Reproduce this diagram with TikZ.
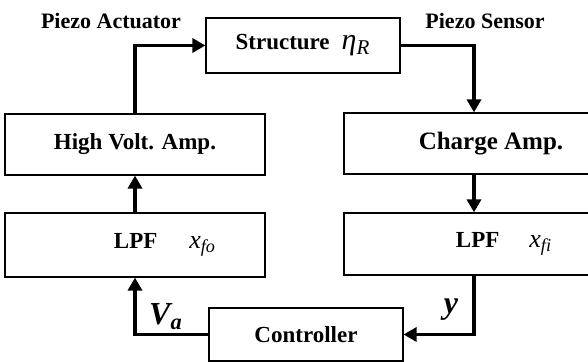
\documentclass[tikz,border=0pt]{standalone}
\usepackage{fontspec}
\setmainfont{Liberation Serif}
\usetikzlibrary{arrows.meta}

\begin{document}
\begin{tikzpicture}[x=0.5pt,y=0.5pt,>={Triangle[length=6.5pt,width=7pt]},
    blockbox/.style={draw,line width=0.6pt,inner sep=0pt,
      font=\fontsize{11.5}{13}\selectfont\bfseries},
    sig/.style={->,line width=1.7pt},
    siglabel/.style={font=\fontsize{16}{18}\selectfont\bfseries\itshape}]
  \clip (0,0) rectangle (588,362);
  % blocks
  \node[blockbox,minimum width=97pt,minimum height=27.5pt] (struct) at (303,316.5) {
    Structure\hspace{6pt}{\mdseries\itshape\fontsize{15}{17}\selectfont η\textsubscript{R}}};
  \node[blockbox,minimum width=130pt,minimum height=30.5pt] (hva) at (135,217.5) {High Volt. Amp.};
  \node[blockbox,minimum width=130pt,minimum height=32pt] (lpfo) at (135,117) {
    \hspace*{30pt}LPF\hspace{16pt}{\mdseries\itshape\fontsize{13}{15}\selectfont x\textsubscript{fo}}};
  \node[blockbox,minimum width=130pt,minimum height=30.5pt] (charge) at (474,218.5) {
    \hspace*{17pt}{\fontsize{12.5}{14}\selectfont Charge Amp.}};
  \node[blockbox,minimum width=130pt,minimum height=31pt] (lpfi) at (474,118) {
    \hspace*{30pt}LPF\hspace{15pt}{\mdseries\itshape\fontsize{13}{15}\selectfont x\textsubscript{fi}}};
  \node[blockbox,minimum width=97pt,minimum height=26.5pt] (ctrl) at (306,27.5) {Controller};
  % labels
  \node[font=\fontsize{11}{13}\selectfont\bfseries] (act) at (111,341) {Piezo Actuator};
  \node[font=\fontsize{11}{13}\selectfont\bfseries] (sens) at (485,341) {Piezo Sensor};
  \node[siglabel] (va) at (166,45) {V\textsubscript{a}};
  \node[siglabel] (yout) at (451,52) {y};
  % signal path
  \draw[sig] (ctrl.west) -| (lpfo.south);
  \draw[sig] (lpfo.north) -- (hva.south);
  \draw[sig] (hva.north) |- (struct.west);
  \draw[sig] (struct.east) -| (charge.north);
  \draw[sig] (charge.south) -- (lpfi.north);
  \draw[sig] (lpfi.south) |- (ctrl.east);
\end{tikzpicture}
\end{document}
